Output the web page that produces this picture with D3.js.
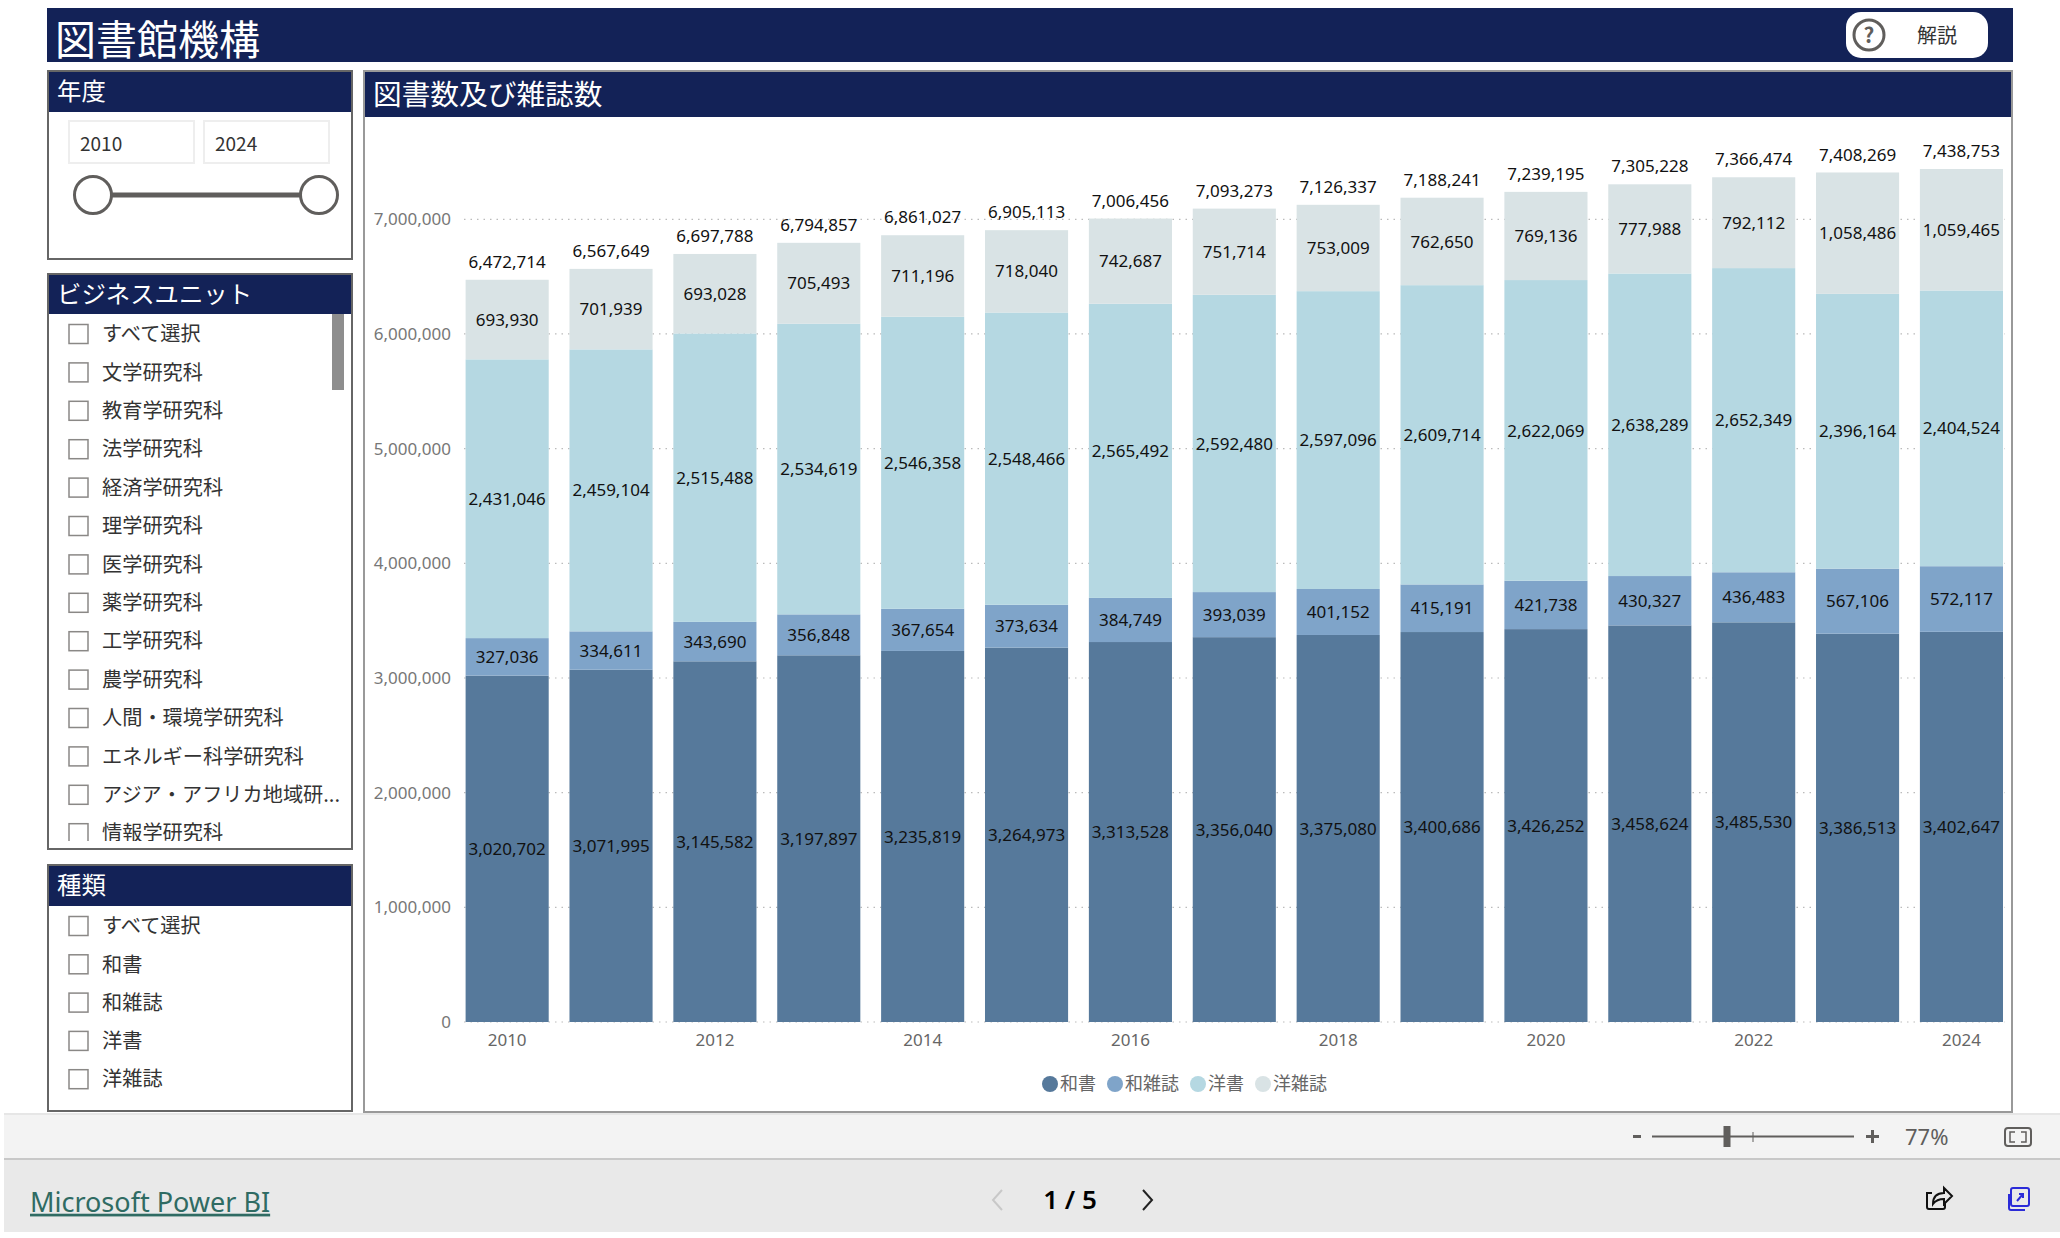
<!DOCTYPE html>
<html lang="ja">
<head>
<meta charset="utf-8">
<title>図書館機構</title>
<script src="https://cdn.jsdelivr.net/npm/d3@7"></script>
<style>
  html, body { margin: 0; padding: 0; background: #fff; }
  svg { display: block; }
  text { font-family: "Noto Sans", "Noto Sans CJK JP", sans-serif; }
  .cjk { font-family: "Noto Sans CJK JP", sans-serif; }
</style>
</head>
<body>
<svg id="page"></svg>
<script>
const years = [2010, 2011, 2012, 2013, 2014, 2015, 2016, 2017, 2018, 2019, 2020, 2021, 2022, 2023, 2024];
const washo = [3020702, 3071995, 3145582, 3197897, 3235819, 3264973, 3313528, 3356040, 3375080, 3400686, 3426252, 3458624, 3485530, 3386513, 3402647];
const wazasshi = [327036, 334611, 343690, 356848, 367654, 373634, 384749, 393039, 401152, 415191, 421738, 430327, 436483, 567106, 572117];
const yosho = [2431046, 2459104, 2515488, 2534619, 2546358, 2548466, 2565492, 2592480, 2597096, 2609714, 2622069, 2638289, 2652349, 2396164, 2404524];
const yozasshi = [693930, 701939, 693028, 705493, 711196, 718040, 742687, 751714, 753009, 762650, 769136, 777988, 792112, 1058486, 1059465];
const totals = [6472714, 6567649, 6697788, 6794857, 6861027, 6905113, 7006456, 7093273, 7126337, 7188241, 7239195, 7305228, 7366474, 7408269, 7438753];

const seriesNames = ['和書', '和雑誌', '洋書', '洋雑誌'];
const seriesValues = [washo, wazasshi, yosho, yozasshi];
const seriesColors = ['#56799b', '#7fa4c9', '#b5d8e2', '#d9e3e5'];
const yTicks = [0, 1000000, 2000000, 3000000, 4000000, 5000000, 6000000, 7000000];
const xTickYears = [2010, 2012, 2014, 2016, 2018, 2020, 2022, 2024];

const units = ['すべて選択', '文学研究科', '教育学研究科', '法学研究科', '経済学研究科', '理学研究科', '医学研究科', '薬学研究科', '工学研究科', '農学研究科', '人間・環境学研究科', 'エネルギー科学研究科', 'アジア・アフリカ地域研...', '情報学研究科'];
const kinds = ['すべて選択', '和書', '和雑誌', '洋書', '洋雑誌'];

const WIDTH = 2060;
const HEIGHT = 1238;
const NAVY = '#132257';

const svg = d3.select('#page').attr('width', WIDTH).attr('height', HEIGHT);

function rect(parent, x, y, w, h, fill, stroke, sw) {
  return parent.append('rect')
    .attr('x', x).attr('y', y).attr('width', w).attr('height', h)
    .attr('fill', fill)
    .attr('stroke', stroke || 'none')
    .attr('stroke-width', sw || 0);
}

function label(parent, x, y, str, size, fill, anchor) {
  return parent.append('text')
    .attr('class', 'cjk')
    .attr('x', x).attr('y', y)
    .attr('dy', '0.36em')
    .attr('font-size', size)
    .attr('fill', fill)
    .attr('text-anchor', anchor || 'start')
    .text(str);
}

// header
rect(svg, 47, 8, 1966, 54, NAVY);
label(svg, 55, 40, '図書館機構', 41, '#fff');
rect(svg, 1846, 12, 142, 46, '#fff').attr('rx', 15);
svg.append('circle').attr('cx', 1869).attr('cy', 35).attr('r', 15)
  .attr('fill', 'none').attr('stroke', '#605e5c').attr('stroke-width', 3);
label(svg, 1869, 35, '?', 21, '#605e5c', 'middle').attr('font-weight', 700);
label(svg, 1917, 36, '解説', 20, '#333');

// side panels
function panel(x, y, w, h, titleH, title, size) {
  rect(svg, x, y, w, h, '#fff', '#666', 2);
  rect(svg, x + 1, y + 1, w - 2, titleH - 1, NAVY);
  label(svg, x + 9, y + titleH / 2, title, size, '#fff');
}

panel(48, 71, 304, 188, 41, '年度', 24.4);
panel(48, 274, 304, 575, 40, 'ビジネスユニット', 24.4);
panel(48, 865, 304, 246, 41, '種類', 24.4);

// year slicer
rect(svg, 69, 121, 125, 42, '#fff', '#eeeeee', 2);
rect(svg, 204, 121, 125, 42, '#fff', '#eeeeee', 2);
label(svg, 80, 144, years[0], 19, '#333');
label(svg, 215, 144, years[years.length - 1], 19, '#333');
svg.append('line').attr('x1', 93).attr('x2', 319).attr('y1', 195).attr('y2', 195)
  .attr('stroke', '#605e5c').attr('stroke-width', 5);
svg.selectAll('.handle').data([93, 319]).join('circle')
  .attr('class', 'handle')
  .attr('cx', d => d).attr('cy', 195).attr('r', 18.5)
  .attr('fill', '#fff').attr('stroke', '#605e5c').attr('stroke-width', 3);

// slicer lists
function slicerList(parent, items, y0, step) {
  const row = parent.selectAll('.row').data(items).join('g')
    .attr('class', 'row')
    .attr('transform', (_, i) => `translate(0, ${y0 + i * step})`);
  row.append('rect')
    .attr('x', 69).attr('y', -9.5).attr('width', 19).attr('height', 19)
    .attr('fill', '#fff').attr('stroke', '#8a8886').attr('stroke-width', 1.5);
  row.append('text')
    .attr('class', 'cjk')
    .attr('x', 102).attr('dy', '0.36em')
    .attr('font-size', 20.2).attr('fill', '#333')
    .text(d => d);
}

const defs = svg.append('defs');
defs.append('clipPath').attr('id', 'unit-clip').append('rect')
  .attr('x', 49).attr('y', 314).attr('width', 302).attr('height', 527);

const unitList = svg.append('g').attr('clip-path', 'url(#unit-clip)');
slicerList(unitList, units, 334, 38.4);
rect(svg, 332, 314, 12, 76, '#8e8e8e');
slicerList(svg.append('g'), kinds, 926, 38.3);

// chart panel
rect(svg, 364, 71, 1648, 1041, '#fff', '#999', 2);
rect(svg, 365, 72, 1646, 45, NAVY);
label(svg, 373, 95, '図書数及び雑誌数', 28.7, '#fff');

const xScale = d3.scaleBand()
  .domain(years)
  .range([465.6, 2003])
  .paddingInner(0.2)
  .paddingOuter(0);

const yScale = d3.scaleLinear()
  .domain([0, 7000000])
  .range([1022, 219.3]);

// dotted grid
svg.append('g').selectAll('line').data(yTicks).join('line')
  .attr('x1', 464).attr('x2', 2005)
  .attr('y1', d => yScale(d)).attr('y2', d => yScale(d))
  .attr('stroke', '#bbb').attr('stroke-width', 1.2)
  .attr('stroke-dasharray', '1.5 5');

const yAxis = d3.axisLeft(yScale)
  .tickValues(yTicks)
  .tickSize(0)
  .tickPadding(0)
  .tickFormat(d3.format(','));
const yAxisGroup = svg.append('g').attr('transform', 'translate(451, 0)').call(yAxis);
yAxisGroup.select('.domain').remove();
yAxisGroup.selectAll('text').attr('font-size', 17).attr('fill', '#777')
  .style('font-family', '"Noto Sans", sans-serif');

const xAxis = d3.axisBottom(xScale)
  .tickValues(xTickYears)
  .tickSize(0)
  .tickPadding(0);
const xAxisGroup = svg.append('g').attr('transform', 'translate(0, 1034)').call(xAxis);
xAxisGroup.select('.domain').remove();
xAxisGroup.selectAll('text').attr('font-size', 17).attr('fill', '#666')
  .style('font-family', '"Noto Sans", sans-serif');

// stacked bars
const rows = years.map((year, i) => {
  const row = { year };
  seriesNames.forEach((name, s) => { row[name] = seriesValues[s][i]; });
  return row;
});
const stacked = d3.stack().keys(seriesNames)(rows);
const format = d3.format(',');

const layers = svg.append('g').selectAll('g').data(stacked).join('g')
  .attr('fill', (_, i) => seriesColors[i]);

layers.selectAll('rect').data(d => d).join('rect')
  .attr('x', d => xScale(d.data.year))
  .attr('width', xScale.bandwidth())
  .attr('y', d => yScale(d[1]))
  .attr('height', d => yScale(d[0]) - yScale(d[1]));

layers.selectAll('text').data(d => d).join('text')
  .attr('x', d => xScale(d.data.year) + xScale.bandwidth() / 2)
  .attr('y', d => (yScale(d[0]) + yScale(d[1])) / 2)
  .attr('dy', '0.36em')
  .attr('text-anchor', 'middle')
  .attr('font-size', 17)
  .attr('fill', '#111')
  .text(d => format(d[1] - d[0]));

svg.append('g').selectAll('text').data(totals).join('text')
  .attr('x', (_, i) => xScale(years[i]) + xScale.bandwidth() / 2)
  .attr('y', d => yScale(d) - 18)
  .attr('dy', '0.36em')
  .attr('text-anchor', 'middle')
  .attr('font-size', 17)
  .attr('fill', '#111')
  .text(d => format(d));

// legend
let legendX = 1042;
seriesNames.forEach((name, i) => {
  svg.append('circle').attr('cx', legendX + 8).attr('cy', 1084).attr('r', 8)
    .attr('fill', seriesColors[i]);
  const t = label(svg, legendX + 18, 1084, name, 18, '#666');
  legendX += 18 + t.node().getComputedTextLength() + 11;
});

// zoom bar
rect(svg, 4, 1113, 2056, 45, '#f3f3f3');
rect(svg, 4, 1113, 2056, 2, '#e6e6e6');
rect(svg, 4, 1158, 2056, 2, '#c8c8c8');
rect(svg, 1633, 1135, 8, 3, '#605e5c');
rect(svg, 1652, 1135.5, 202, 2, '#605e5c');
rect(svg, 1723.5, 1126, 7, 21, '#605e5c');
rect(svg, 1752.5, 1132, 1, 10, '#605e5c');
rect(svg, 1866, 1135, 13, 3, '#605e5c');
rect(svg, 1871, 1130, 3, 13, '#605e5c');
label(svg, 1905, 1137, '77%', 22, '#605e5c').style('font-family', '"Noto Sans", sans-serif');
rect(svg, 2005, 1128, 26, 18, 'none', '#605e5c', 2).attr('rx', 3);
svg.append('path')
  .attr('d', 'M2010 1137v-5h5 M2026 1137v-5h-5 M2010 1137v5h5 M2026 1137v5h-5')
  .attr('fill', 'none').attr('stroke', '#605e5c').attr('stroke-width', 1.5);

// footer
rect(svg, 4, 1160, 2056, 72, '#e9e9e9');
const brand = label(svg, 30, 1202, 'Microsoft Power BI', 27, '#2f6b63')
  .style('font-family', '"Noto Sans", sans-serif');
brand.attr('text-decoration', 'underline');
label(svg, 1070, 1200, '1 / 5', 26, '#000', 'middle')
  .style('font-family', '"Noto Sans", sans-serif').attr('font-weight', 600);
svg.append('path').attr('d', 'M1002 1190l-9 10 9 10')
  .attr('fill', 'none').attr('stroke', '#c8c8c8').attr('stroke-width', 2);
svg.append('path').attr('d', 'M1143 1190l9 10-9 10')
  .attr('fill', 'none').attr('stroke', '#222').attr('stroke-width', 2);

// share and open icons
svg.append('path')
  .attr('transform', 'translate(-5, 0)')
  .attr('d', 'M1937 1193h-5v14a2 2 0 0 0 2 2h14a2 2 0 0 0 2-2v-5 M1938 1204c0-8 5-11 11-11v-5l8 8-8 8v-5c-5 0-8 1-11 5z')
  .attr('fill', 'none').attr('stroke', '#111').attr('stroke-width', 2);
svg.append('path')
  .attr('d', 'M2011 1190a2 2 0 0 1 2-2h14a2 2 0 0 1 2 2v14a2 2 0 0 1-2 2h-14a2 2 0 0 1-2-2z M2009 1194v14a2 2 0 0 0 2 2h14 M2017 1201l6-7 M2019 1194h4v4')
  .attr('fill', 'none').attr('stroke', '#2b2bd8').attr('stroke-width', 2);
</script>
</body>
</html>
